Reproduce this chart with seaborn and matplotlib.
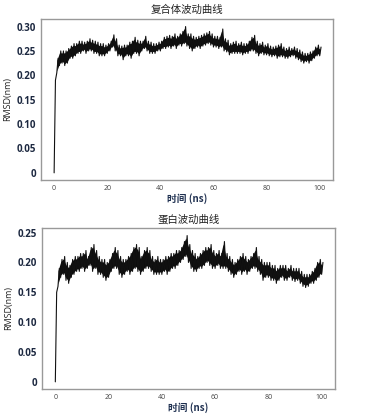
import numpy as np
import pandas as pd
import matplotlib
matplotlib.use("Agg")
import matplotlib.pyplot as plt
import seaborn as sns

# ---------------- data ----------------
time_ns = np.arange(0, 101)  # 0..100 ns, 1 ns steps

# complex (top panel): local low / high of the RMSD trace per ns
complex_lo = [0.000, 0.205, 0.220, 0.225, 0.220, 0.225, 0.235, 0.235, 0.240, 0.245,
              0.245, 0.250, 0.245, 0.250, 0.250, 0.245, 0.245, 0.240, 0.240, 0.240,
              0.245, 0.250, 0.258, 0.250, 0.240, 0.240, 0.232, 0.240, 0.240, 0.235,
              0.245, 0.245, 0.240, 0.250, 0.255, 0.250, 0.245, 0.245, 0.245, 0.250,
              0.250, 0.255, 0.255, 0.258, 0.255, 0.260, 0.255, 0.262, 0.260, 0.265,
              0.260, 0.255, 0.250, 0.255, 0.258, 0.255, 0.260, 0.262, 0.265, 0.262,
              0.258, 0.258, 0.255, 0.258, 0.250, 0.248, 0.242, 0.245, 0.245, 0.245,
              0.245, 0.242, 0.245, 0.245, 0.250, 0.250, 0.245, 0.240, 0.245, 0.242,
              0.242, 0.240, 0.238, 0.240, 0.235, 0.238, 0.238, 0.235, 0.235, 0.238,
              0.240, 0.235, 0.232, 0.228, 0.225, 0.228, 0.225, 0.230, 0.235, 0.240,
              0.240]
complex_hi = [0.190, 0.235, 0.250, 0.250, 0.250, 0.255, 0.260, 0.265, 0.265, 0.270,
              0.270, 0.268, 0.270, 0.275, 0.272, 0.270, 0.268, 0.265, 0.265, 0.262,
              0.265, 0.270, 0.283, 0.275, 0.262, 0.260, 0.262, 0.262, 0.268, 0.270,
              0.278, 0.272, 0.270, 0.270, 0.280, 0.270, 0.268, 0.265, 0.265, 0.268,
              0.270, 0.278, 0.280, 0.282, 0.280, 0.285, 0.280, 0.285, 0.290, 0.300,
              0.285, 0.285, 0.280, 0.278, 0.280, 0.282, 0.285, 0.287, 0.290, 0.285,
              0.280, 0.280, 0.278, 0.295, 0.275, 0.272, 0.265, 0.268, 0.270, 0.265,
              0.268, 0.265, 0.265, 0.270, 0.278, 0.282, 0.270, 0.265, 0.268, 0.262,
              0.265, 0.260, 0.258, 0.260, 0.262, 0.265, 0.258, 0.255, 0.258, 0.255,
              0.258, 0.255, 0.252, 0.248, 0.245, 0.245, 0.248, 0.250, 0.258, 0.262,
              0.258]

# protein (bottom panel)
protein_lo = [0.000, 0.160, 0.175, 0.180, 0.170, 0.165, 0.175, 0.180, 0.185, 0.185,
              0.190, 0.185, 0.190, 0.195, 0.185, 0.190, 0.180, 0.180, 0.175, 0.170,
              0.175, 0.185, 0.190, 0.190, 0.180, 0.175, 0.180, 0.185, 0.180, 0.185,
              0.190, 0.185, 0.180, 0.185, 0.190, 0.190, 0.185, 0.180, 0.180, 0.180,
              0.180, 0.185, 0.180, 0.185, 0.190, 0.190, 0.195, 0.200, 0.205, 0.210,
              0.200, 0.190, 0.185, 0.185, 0.190, 0.190, 0.195, 0.200, 0.195, 0.190,
              0.190, 0.195, 0.190, 0.190, 0.190, 0.185, 0.180, 0.175, 0.180, 0.185,
              0.180, 0.185, 0.180, 0.185, 0.190, 0.190, 0.185, 0.180, 0.170, 0.175,
              0.175, 0.170, 0.170, 0.165, 0.170, 0.175, 0.170, 0.170, 0.175, 0.170,
              0.168, 0.170, 0.165, 0.160, 0.158, 0.160, 0.165, 0.165, 0.170, 0.175,
              0.180]
protein_hi = [0.150, 0.190, 0.205, 0.210, 0.200, 0.195, 0.205, 0.210, 0.210, 0.215,
              0.215, 0.220, 0.210, 0.225, 0.230, 0.220, 0.210, 0.205, 0.205, 0.200,
              0.205, 0.215, 0.225, 0.220, 0.210, 0.205, 0.205, 0.210, 0.215, 0.225,
              0.230, 0.225, 0.210, 0.220, 0.225, 0.220, 0.210, 0.205, 0.210, 0.205,
              0.205, 0.210, 0.210, 0.215, 0.215, 0.220, 0.220, 0.225, 0.235, 0.245,
              0.230, 0.220, 0.215, 0.210, 0.215, 0.220, 0.225, 0.225, 0.230, 0.220,
              0.215, 0.220, 0.215, 0.235, 0.215, 0.210, 0.205, 0.200, 0.205, 0.210,
              0.215, 0.210, 0.205, 0.210, 0.215, 0.225, 0.210, 0.205, 0.200, 0.200,
              0.200, 0.195, 0.195, 0.190, 0.195, 0.195, 0.195, 0.190, 0.195, 0.190,
              0.190, 0.190, 0.185, 0.180, 0.180, 0.180, 0.185, 0.190, 0.200, 0.205,
              0.200]

titles = ["复合体波动曲线", "蛋白波动曲线"]
xlabel = "时间 (ns)"
ylabel = "RMSD(nm)"
x_ticks = [0, 20, 40, 60, 80, 100]
y_ticks_top = [0, 0.05, 0.10, 0.15, 0.20, 0.25, 0.30]
y_ticks_bot = [0, 0.05, 0.10, 0.15, 0.20, 0.25]


def trace(lo, hi):
    """Trace that visits the low and high of each ns in turn."""
    tz = np.ravel(np.column_stack([time_ns, time_ns + 0.5]))
    vz = np.ravel(np.column_stack([lo, hi]))
    return pd.DataFrame({"t": tz, "rmsd": vz})


sns.set_style("white")
plt.rcParams["font.family"] = ["Open Sans", "Noto Sans CJK SC", "DejaVu Sans"]

fig = plt.figure(figsize=(3.89, 4.18), dpi=100)
ax1 = fig.add_axes([0.105, 0.569, 0.751, 0.386])
ax2 = fig.add_axes([0.108, 0.069, 0.753, 0.386])

panels = [(ax1, complex_lo, complex_hi, titles[0], y_ticks_top),
          (ax2, protein_lo, protein_hi, titles[1], y_ticks_bot)]

label_col = "#1c2840"
for ax, lo, hi, title, yt in panels:
    df = trace(lo, hi)
    # dense band of the trajectory between its lows and highs
    ax.fill_between(time_ns[1:], np.array(lo[1:]) + 0.004, np.array(hi[1:]) - 0.004,
                    color="black", linewidth=0, alpha=0.95)
    sns.lineplot(data=df, x="t", y="rmsd", ax=ax, color="#111111",
                 linewidth=0.8, estimator=None, sort=False)
    ax.set_xlim(-5, 105)
    ymax = max(hi)
    ax.set_ylim(-0.05 * ymax, 1.053 * ymax)
    ax.set_xticks(x_ticks)
    ax.set_xticklabels([str(v) for v in x_ticks], fontsize=5, color="#444444")
    ax.set_yticks(yt)
    ax.set_yticklabels(["0" if v == 0 else f"{v:.2f}" for v in yt],
                       fontsize=7, fontweight="bold", color=label_col)
    ax.set_title(title, fontsize=7.5, family=["Noto Sans CJK SC"], pad=4,
                 color="#222222")
    ax.set_xlabel(xlabel, fontsize=7, fontweight="bold", color="#1f3050",
                  family=["Noto Sans CJK SC", "DejaVu Sans"], labelpad=1)
    ax.set_ylabel(ylabel, fontsize=6.5, color="#222222", labelpad=3)
    for s in ax.spines.values():
        s.set_color("#999999")
        s.set_linewidth(1.0)
    ax.tick_params(axis="both", which="both", direction="out", length=2,
                   width=0.6, color="#888888", pad=1.5)

fig.savefig("out.png", dpi=100, facecolor="white")
